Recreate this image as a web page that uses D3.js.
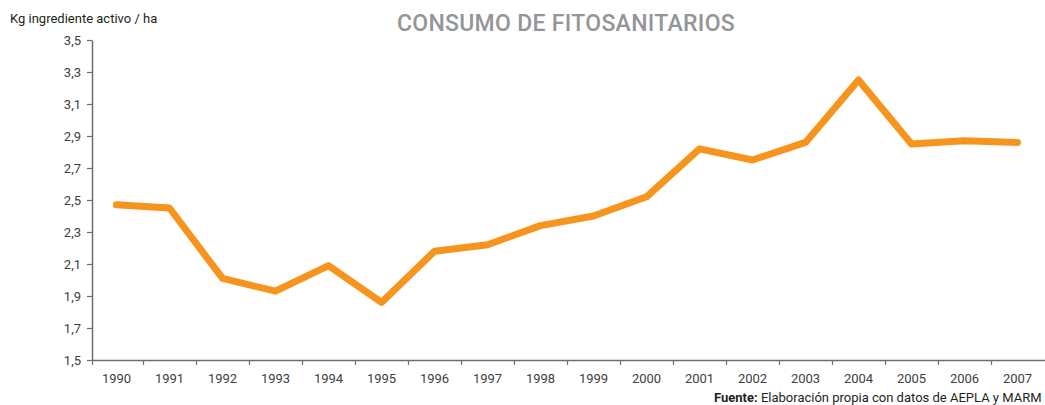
<!DOCTYPE html>
<html><head><meta charset="utf-8">
<script src="https://cdn.jsdelivr.net/npm/d3@7/dist/d3.min.js"></script>
<style>
body{margin:0;background:#fff;}
svg{display:block;font-family:Roboto, "DejaVu Sans", sans-serif;}
</style></head>
<body>
<svg id="chart" width="1045" height="405"></svg>
<script>
const years = ["1990","1991","1992","1993","1994","1995","1996","1997","1998","1999","2000","2001","2002","2003","2004","2005","2006","2007"];
const consumo = [2.47,2.45,2.01,1.93,2.09,1.86,2.18,2.22,2.34,2.40,2.52,2.82,2.75,2.86,3.25,2.85,2.87,2.86];
const yTicks = [1.5,1.7,1.9,2.1,2.3,2.5,2.7,2.9,3.1,3.3,3.5];

const svg = d3.select("#chart");
const mLeft = 90, mRight = 1044, mTop = 40, mBottom = 360;

const x = d3.scaleBand().domain(years).range([mLeft, mRight]).padding(0);
const xEdge = d3.scaleLinear().domain([0, years.length]).range([mLeft, mRight]);
const y = d3.scaleLinear().domain([1.5, 3.5]).range([mBottom, mTop]);

const axisColor = "#6d6e71";
const textColor = "#404041";

// Y axis
const yAxis = svg.append("g").attr("transform", `translate(${mLeft + 2},0)`)
  .call(d3.axisLeft(y).tickValues(yTicks).tickSize(5).tickSizeOuter(0)
    .tickFormat(d => d3.format(".1f")(d).replace(".", ",")));
yAxis.select(".domain").attr("stroke", axisColor).attr("stroke-width", 1.5);
yAxis.selectAll(".tick line").attr("stroke", axisColor).attr("stroke-width", 1.2);
yAxis.selectAll(".tick text").attr("fill", textColor).attr("font-size", 13).attr("x", -11)
  .attr("font-family", "Roboto, sans-serif");

// X axis labels
const xAxis = svg.append("g").attr("transform", `translate(0,${mBottom})`)
  .call(d3.axisBottom(x).tickSize(0).tickSizeOuter(0).tickPadding(14));
xAxis.select(".domain").remove();
xAxis.selectAll(".tick text").attr("fill", textColor).attr("font-size", 13)
  .attr("font-family", "Roboto, sans-serif");

// X axis line + boundary ticks
const xTickAxis = svg.append("g").attr("transform", `translate(0,${mBottom})`)
  .call(d3.axisBottom(xEdge).tickValues(d3.range(0, years.length)).tickSize(5).tickSizeOuter(0).tickFormat(""));
xTickAxis.select(".domain").attr("stroke", axisColor).attr("stroke-width", 1.5)
  .attr("d", `M${mLeft + 2},0.5H${mRight + 1}`);
xTickAxis.selectAll(".tick line").attr("stroke", axisColor).attr("stroke-width", 1.2)
  .attr("transform", (d) => d === 0 ? "translate(2,0)" : null);

// Line
const line = d3.line()
  .x((d, i) => x(years[i]) + x.bandwidth() / 2)
  .y(d => y(d));
svg.append("path").datum(consumo)
  .attr("fill", "none")
  .attr("stroke", "#f7941d")
  .attr("stroke-width", 7)
  .attr("stroke-linecap", "round")
  .attr("stroke-linejoin", "round")
  .attr("d", line);

// Title
svg.append("text").attr("x", 566).attr("y", 31).attr("text-anchor", "middle")
  .attr("fill", "#939598").attr("font-size", 23).attr("font-weight", 500)
  .attr("letter-spacing", 0.3)
  .attr("font-family", "Roboto, sans-serif")
  .text("CONSUMO DE FITOSANITARIOS");

// Y unit label
svg.append("text").attr("x", 10).attr("y", 23)
  .attr("fill", "#231f20").attr("font-size", 13)
  .attr("font-family", "Roboto, sans-serif")
  .text("Kg ingrediente activo / ha");

// Source
const src = svg.append("text").attr("x", 714).attr("y", 402)
  .attr("fill", "#231f20").attr("font-size", 13)
  .attr("font-family", "Roboto, sans-serif");
src.append("tspan").attr("font-weight", 700).text("Fuente: ");
src.append("tspan").text("Elaboración propia con datos de AEPLA y MARM");
</script>
</body></html>
